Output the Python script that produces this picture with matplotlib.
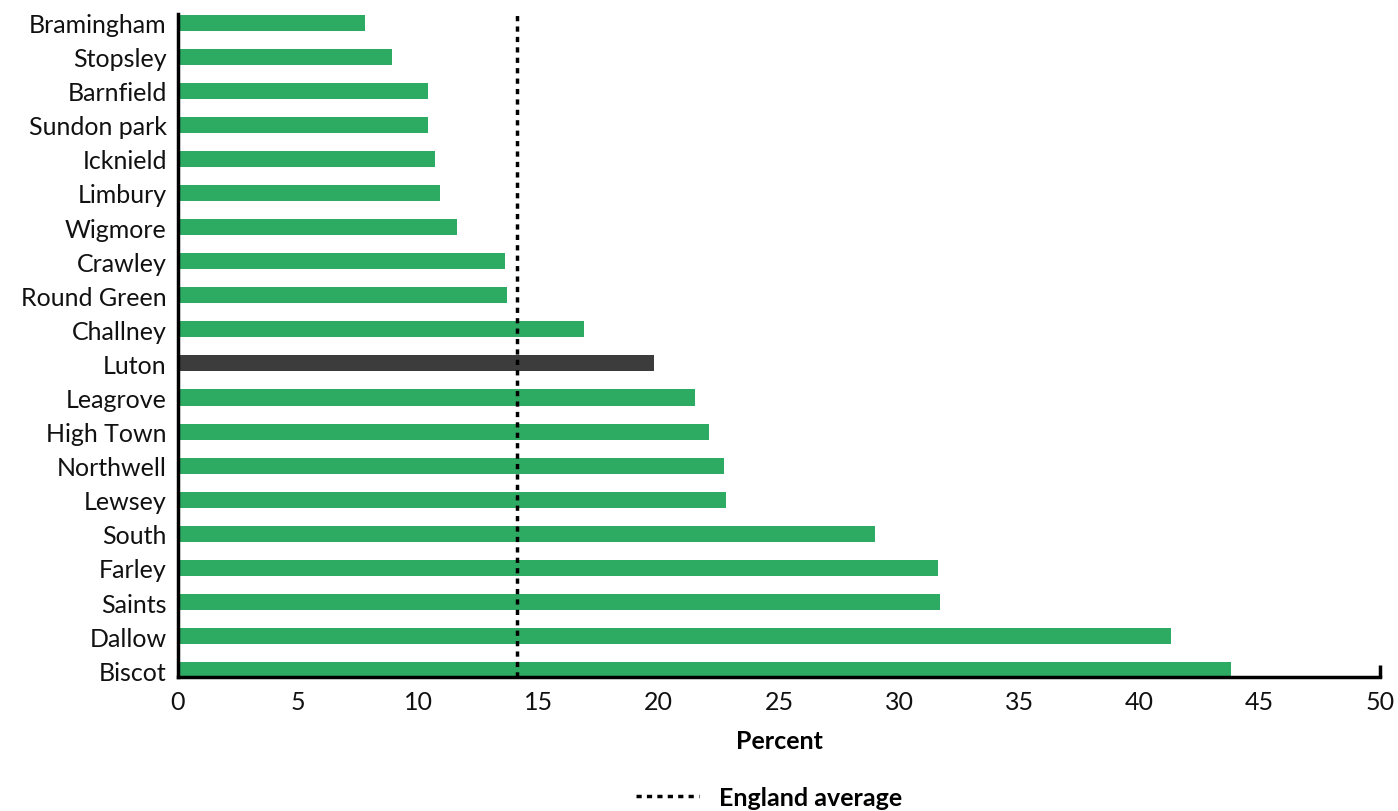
import matplotlib.pyplot as plt
from matplotlib.lines import Line2D

wards = ['Bramingham', 'Stopsley', 'Barnfield', 'Sundon park', 'Icknield',
         'Limbury', 'Wigmore', 'Crawley', 'Round Green', 'Challney', 'Luton',
         'Leagrove', 'High Town', 'Northwell', 'Lewsey', 'South', 'Farley',
         'Saints', 'Dallow', 'Biscot']
percent = [7.8, 8.9, 10.4, 10.4, 10.7, 10.9, 11.6, 13.6, 13.7, 16.9, 19.8,
           21.5, 22.1, 22.7, 22.8, 29.0, 31.6, 31.7, 41.3, 43.8]
england_avg = 14.1
xticks = [0, 5, 10, 15, 20, 25, 30, 35, 40, 45, 50]

plt.rcParams['font.family'] = ['Lato', 'DejaVu Sans']

green = '#2eab62'
dark = '#3c3c3c'
colors = [dark if w == 'Luton' else green for w in wards]

fig = plt.figure(figsize=(13.98, 8.12), dpi=100)
ax = fig.add_axes([0.1273, 0.165, 0.8598, 0.8165])

# top ward first
ypos = list(range(len(wards)))[::-1]
ax.barh(ypos, percent, height=0.47, color=colors, zorder=2)
ax.axvline(england_avg, color='black', linestyle=(0, (1.5, 1.5)),
           linewidth=2.5, zorder=3)

ax.set_xlim(0, 50)
ax.set_ylim(-0.2, 19.25)
ax.set_yticks(ypos)
ax.set_yticklabels(wards, fontsize=18, color='#111111')
ax.set_xticks(xticks)
ax.set_xticklabels([str(t) for t in xticks], fontsize=18, color='#111111')
ax.tick_params(axis='y', length=0, pad=8)
ax.tick_params(axis='x', length=0, pad=9)

for s in ['top', 'right']:
    ax.spines[s].set_visible(False)
ax.spines['left'].set_linewidth(2.5)
ax.spines['bottom'].set_linewidth(2.5)
# end tick at 50
ax.plot([50, 50], [-0.2, 0.15], color='black', linewidth=2.5,
        clip_on=False, solid_capstyle='butt')

ax.set_xlabel('Percent', fontsize=18, fontweight='bold', labelpad=12)

handle = Line2D([], [], color='black', linestyle=(0, (1.5, 1.5)), linewidth=2.5)
fig.legend([handle], ['England average'], loc='lower center',
           bbox_to_anchor=(0.55, -0.025), frameon=False,
           prop={'size': 18, 'weight': 'bold'}, handlelength=2.5)

fig.savefig('out.png', dpi=100)
